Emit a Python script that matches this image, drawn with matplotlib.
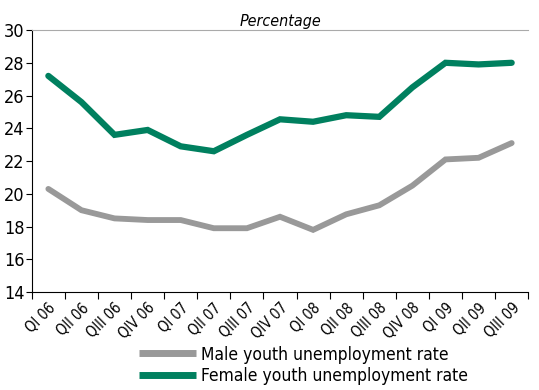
import matplotlib
matplotlib.use('Agg')
import matplotlib.pyplot as plt
import numpy as np

plt.rcParams['font.family'] = ['DejaVu Sans']
plt.rcParams['font.stretch'] = 'condensed'

# quarters
quarters = ['QI 06', 'QII 06', 'QIII 06', 'QIV 06', 'QI 07', 'QII 07', 'QIII 07', 'QIV 07',
            'QI 08', 'QII 08', 'QIII 08', 'QIV 08', 'QI 09', 'QII 09', 'QIII 09']
male = [20.3, 19.0, 18.5, 18.4, 18.4, 17.9, 17.9, 18.6, 17.8, 18.75, 19.3, 20.5, 22.1, 22.2, 23.1]
female = [27.2, 25.6, 23.6, 23.9, 22.9, 22.6, 23.6, 24.55, 24.4, 24.8, 24.7, 26.5, 28.0, 27.9, 28.0]
yticks = [14, 16, 18, 20, 22, 24, 26, 28, 30]

fig = plt.figure(figsize=(5.39, 3.9), dpi=100)
ax = fig.add_axes([0.059, 0.251, 0.921, 0.672])

x = np.arange(len(quarters))
ax.plot(x, male, color='#999999', linewidth=4.2, label='Male youth unemployment rate',
        solid_capstyle='round', solid_joinstyle='miter')
ax.plot(x, female, color='#00805f', linewidth=4.5, label='Female youth unemployment rate',
        solid_capstyle='round', solid_joinstyle='miter')

ax.set_xlim(-0.5, len(quarters) - 0.5)
ax.set_ylim(14, 30)
ax.set_yticks(yticks)
ax.tick_params(axis='y', labelsize=13, length=4, width=0.8, pad=1)

ax.set_xticks(x)
ax.set_xticklabels(quarters, rotation=45, ha='right', rotation_mode='anchor', fontsize=10.5)
ax.set_xticks(np.arange(len(quarters) + 1) - 0.5, minor=True)
ax.tick_params(axis='x', which='major', length=0, pad=6)
ax.tick_params(axis='x', which='minor', length=5, width=0.8)

ax.spines['right'].set_visible(False)
ax.spines['top'].set_color('#aaaaaa')
ax.spines['left'].set_linewidth(0.8)
ax.spines['bottom'].set_linewidth(0.8)

ax.set_title('Percentage', style='italic', fontsize=11.5, pad=3)

leg = fig.legend(loc='lower left', bbox_to_anchor=(0.245, -0.005), frameon=False, fontsize=12.5,
                 handlelength=3.3, handletextpad=0.3, labelspacing=0.2, borderaxespad=0)
for h in leg.get_lines():
    h.set_solid_capstyle('butt')
    h.set_linewidth(5)

fig.savefig('out.png', dpi=100)
